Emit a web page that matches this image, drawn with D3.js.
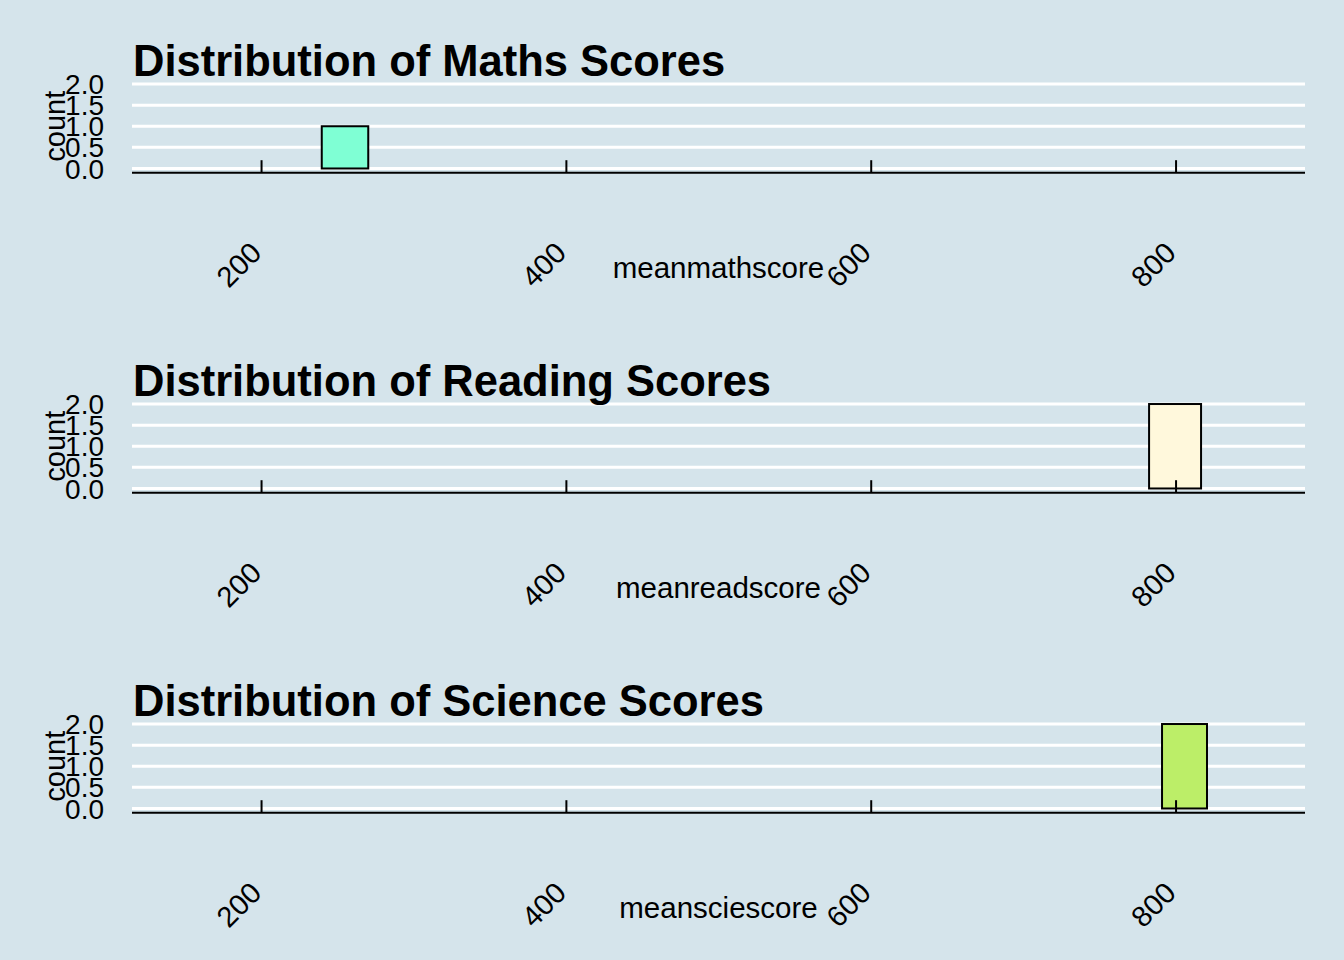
<!DOCTYPE html>
<html>
<head>
<meta charset="utf-8">
<script src="https://cdn.jsdelivr.net/npm/d3@7"></script>
<style>
  html, body { margin: 0; padding: 0; background: #d5e4eb; }
  svg { display: block; }
  text { font-family: "Liberation Sans", Arial, sans-serif; fill: #000; }
</style>
</head>
<body>
<svg id="chart" width="1344" height="960"></svg>
<script>
// ---- data ----
const titles = ["Distribution of Maths Scores", "Distribution of Reading Scores", "Distribution of Science Scores"];
const xTitles = ["meanmathscore", "meanreadscore", "meansciescore"];
const binStarts = [239.5, 782.3, 790.8];
const binEnds = [270.0, 816.4, 820.3];
const counts = [1, 2, 2];
const xTicks = [200, 400, 600, 800];
const yTicks = [0, 0.5, 1, 1.5, 2];
const yTickLabels = ["0.0", "0.5", "1.0", "1.5", "2.0"];
const fills = ["#7fffd4", "#fff8dc", "#bcee68"];

// ---- layout ----
const W = 1344, H = 960;
const plotLeft = 132, plotRight = 1305;
const panelStep = 320;
const panelTop0 = 79.8, panelH = 92.9;

const svg = d3.select("#chart");
svg.append("rect").attr("width", W).attr("height", H).attr("fill", "#d5e4eb");

const x = d3.scaleLinear().domain([115.0, 884.6]).range([plotLeft, plotRight]);

titles.forEach((title, i) => {
  const top = panelTop0 + panelStep * i;
  const bottom = top + panelH;
  const y = d3.scaleLinear().domain([-0.1, 2.1]).range([bottom, top]);
  const g = svg.append("g");

  // gridlines
  g.selectAll("line.grid").data(yTicks).enter().append("line")
    .attr("x1", plotLeft).attr("x2", plotRight)
    .attr("y1", d => y(d)).attr("y2", d => y(d))
    .attr("stroke", "#ffffff").attr("stroke-width", 3);

  // bars
  g.selectAll("rect.bar").data([0]).enter().append("rect")
    .attr("x", () => x(binStarts[i]))
    .attr("width", () => x(binEnds[i]) - x(binStarts[i]))
    .attr("y", () => y(counts[i]))
    .attr("height", () => y(0) - y(counts[i]))
    .attr("fill", fills[i]).attr("stroke", "#000").attr("stroke-width", 2);

  // x axis line + inward ticks
  g.append("line").attr("x1", plotLeft).attr("x2", plotRight)
    .attr("y1", bottom).attr("y2", bottom)
    .attr("stroke", "#000").attr("stroke-width", 2);
  g.selectAll("line.xt").data(xTicks).enter().append("line")
    .attr("x1", d => x(d)).attr("x2", d => x(d))
    .attr("y1", bottom).attr("y2", bottom - 12.5)
    .attr("stroke", "#000").attr("stroke-width", 2);

  // x tick labels rotated
  g.selectAll("text.xl").data(xTicks).enter().append("text")
    .attr("transform", d => `translate(${x(d) + 1.5},${bottom + 82}) rotate(-45)`)
    .attr("text-anchor", "end")
    .style("font-size", "29px")
    .text(d => d);

  // y tick labels
  g.selectAll("text.yl").data(yTicks).enter().append("text")
    .attr("x", 104).attr("y", d => y(d)).attr("dy", "0.36em")
    .attr("text-anchor", "end").style("font-size", "28px")
    .text((d, k) => yTickLabels[k]);

  // y axis title
  g.append("text")
    .attr("transform", `translate(65,${(top + bottom) / 2}) rotate(-90)`)
    .attr("text-anchor", "middle").style("font-size", "29px")
    .text("count");

  // x axis title
  g.append("text")
    .attr("x", (plotLeft + plotRight) / 2).attr("y", 278 + panelStep * i)
    .attr("text-anchor", "middle").style("font-size", "29.5px")
    .text(xTitles[i]);

  // title
  g.append("text")
    .attr("x", 133).attr("y", 75.5 + panelStep * i)
    .style("font-size", "43.5px").style("font-weight", "bold")
    .text(title);
});
</script>
</body>
</html>
